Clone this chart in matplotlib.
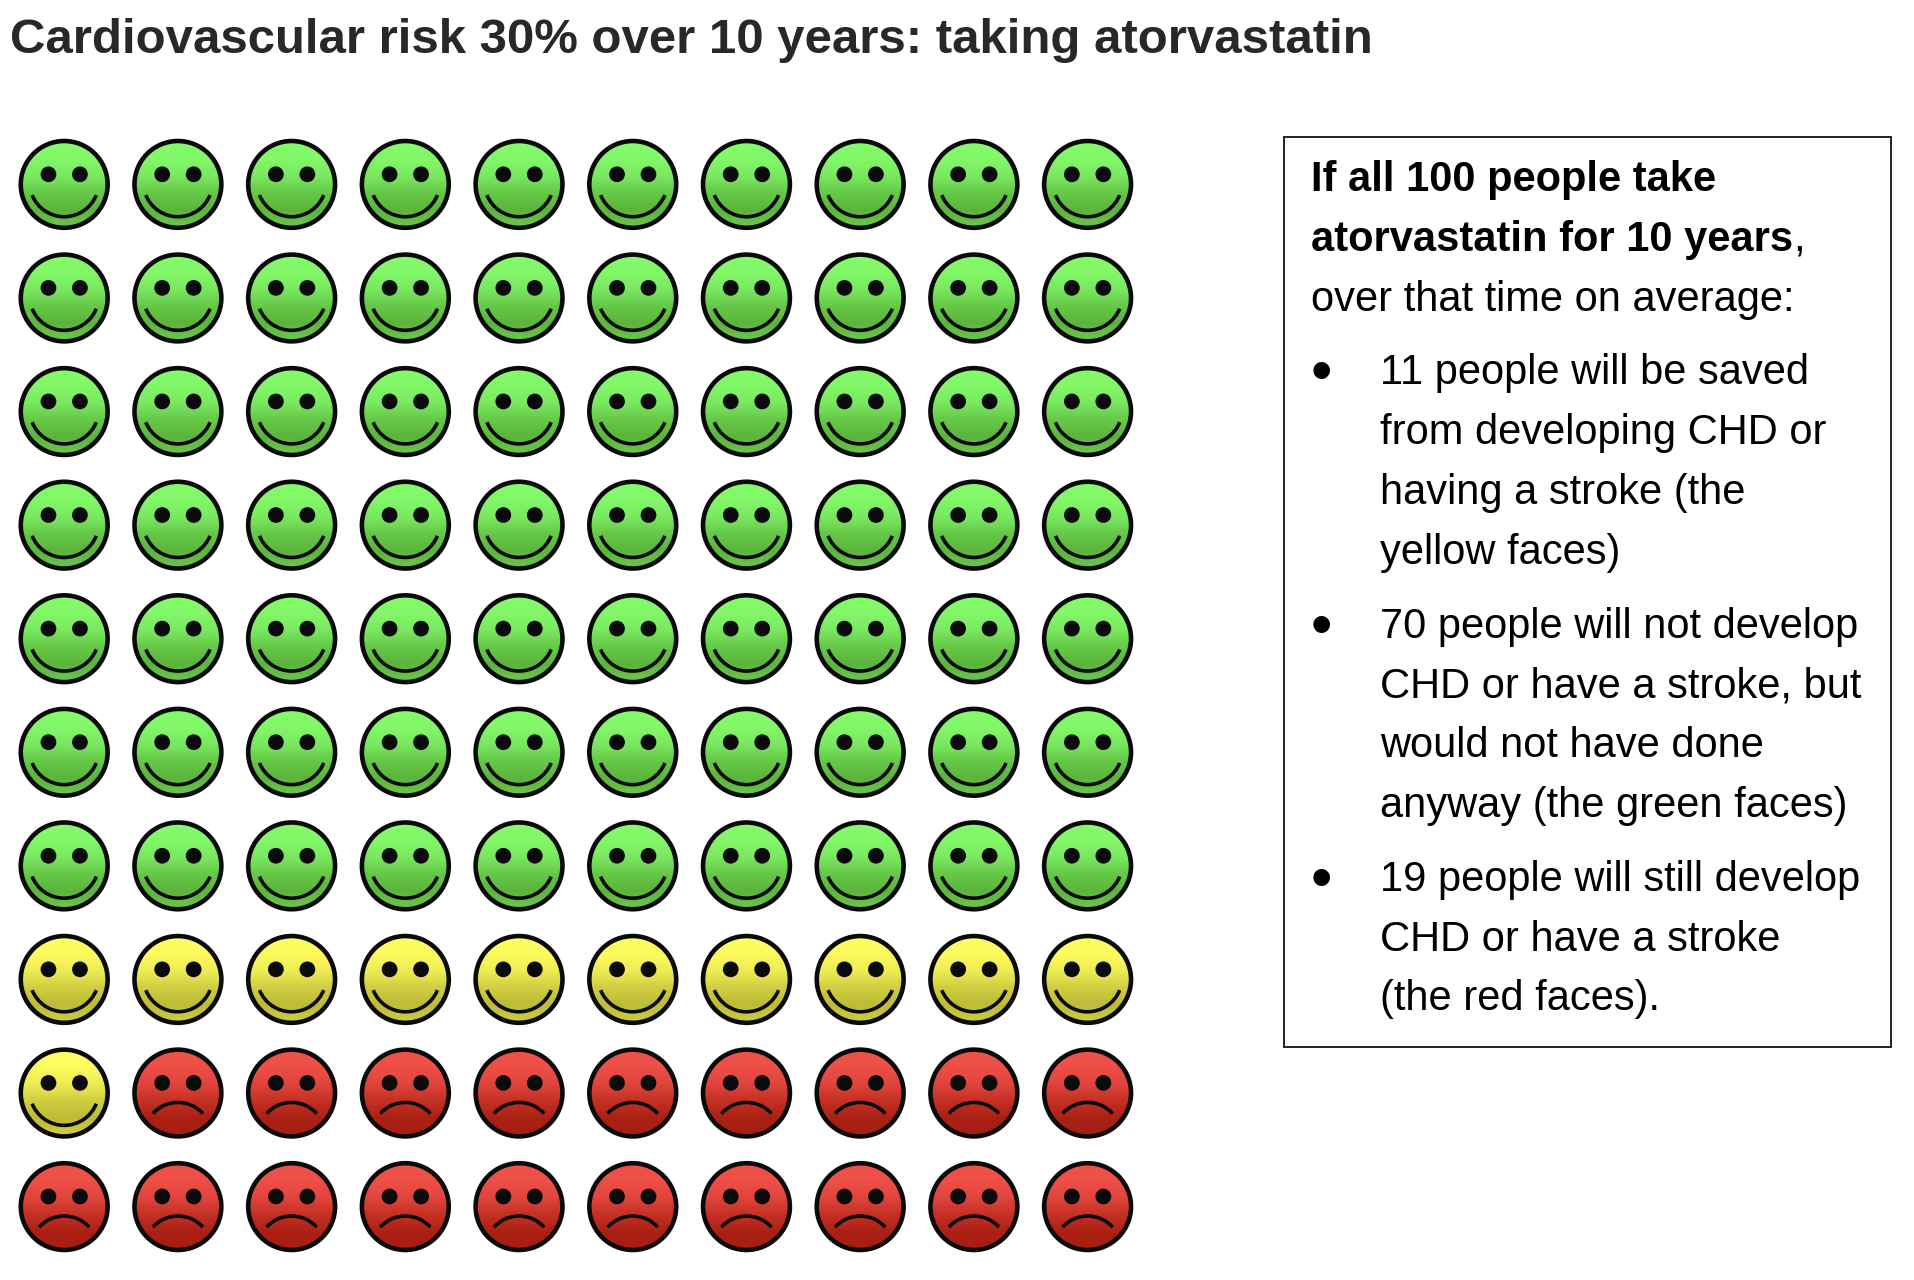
import numpy as np
import matplotlib
matplotlib.use("Agg")
import matplotlib.pyplot as plt
from matplotlib.colors import LinearSegmentedColormap
from matplotlib.patches import Circle, Arc, Rectangle

W, H = 1915, 1280
plt.rcParams['font.family'] = ['Liberation Sans', 'DejaVu Sans']

title = "Cardiovascular risk 30% over 10 years: taking atorvastatin"
n_rows, n_cols = 10, 10
counts = [("green", 70), ("yellow", 11), ("red", 19)]
stops = {
    "green": ["#84FB6A", "#82F868", "#7AE860", "#66C848", "#5CB43C", "#6CC84C"],
    "yellow": ["#FFFF62", "#FDFB5E", "#EEEC54", "#CFCD40", "#BDBB38", "#D0CE42"],
    "red": ["#F0524A", "#EE4F47", "#E0443C", "#C43024", "#AC2014", "#A81E12"],
}
box_head = ["If all 100 people take", "atorvastatin for 10 years"]
box_intro = "over that time on average:"
bullets = [
    ["11 people will be saved", "from developing CHD or", "having a stroke (the", "yellow faces)"],
    ["70 people will not develop", "CHD or have a stroke, but", "would not have done", "anyway (the green faces)"],
    ["19 people will still develop", "CHD or have a stroke", "(the red faces)."],
]

fig = plt.figure(figsize=(W / 100, H / 100), dpi=100, facecolor="white")
def fx(p): return p / W
def fy(p): return 1 - p / H

# grid axes: one data unit = one cell
cell_x = (1087.6 - 64.2) / 9
cell_y = (1206.6 - 184.4) / 9
x0, x1 = 64.2 - cell_x / 2, 1087.6 + cell_x / 2
y0, y1 = 184.4 - cell_y / 2, 1206.6 + cell_y / 2
ax = fig.add_axes([fx(x0), fy(y1), (x1 - x0) / W, (y1 - y0) / H])
ax.set_xlim(0, n_cols)
ax.set_ylim(n_rows, 0)
ax.axis("off")

kinds = [k for k, n in counts for _ in range(n)]
R = 0.382
U = 1.035
EDGE = "#0a0a0a"
for i, kind in enumerate(kinds):
    r, c = divmod(i, n_cols)
    cx, cy = c + 0.5, r + 0.5
    cmap = LinearSegmentedColormap.from_list(kind, stops[kind])
    im = ax.imshow(np.linspace(0, 1, 64)[:, None], cmap=cmap, aspect="auto",
                   extent=(cx - R, cx + R, cy + R, cy - R), origin="upper", zorder=1)
    clip = Circle((cx, cy), R, transform=ax.transData)
    im.set_clip_path(clip)
    ax.add_patch(Circle((cx, cy), R, fc="none", ec=EDGE, lw=3.3, zorder=3))
    for sx in (-1, 1):
        ax.add_patch(Circle((cx + sx * 0.35 * U * R, cy - 0.225 * U * R), 0.175 * U * R,
                            fc=EDGE, ec="none", zorder=3))
    if kind == "red":
        ax.add_patch(Arc((cx, cy + 0.96 * U * R), 1.5 * U * R, 1.5 * U * R, theta1=222, theta2=318,
                         ec=EDGE, lw=2.6, zorder=3))
    else:
        ax.add_patch(Arc((cx, cy - 0.05 * U * R), 1.54 * U * R, 1.54 * U * R, theta1=22, theta2=158,
                         ec=EDGE, lw=2.6, zorder=3))
ax.set_xlim(0, n_cols)
ax.set_ylim(n_rows, 0)

# title
fig.text(fx(10), fy(53), title, fontsize=35.4, fontweight="bold", color="#282828",
         va="baseline", ha="left")

# box
fig.add_artist(Rectangle((fx(1284.5), fy(1046.5)), (1891 - 1284.5) / W, (1046.5 - 137) / H,
                         transform=fig.transFigure, fc="white", ec="#222222", lw=1.4))

FS = 30
LEFT, IND, BUL = 1311.5, 1380.5, 1321.5
pitch = 59.8
gap = 14
y = 191
fig.text(fx(LEFT), fy(y), box_head[0], fontsize=FS, fontweight="bold", color="black", va="baseline")
y += pitch
t = fig.text(fx(LEFT), fy(y), box_head[1], fontsize=FS, fontweight="bold", color="black", va="baseline")
fig.canvas.draw()
bb = t.get_window_extent()
fig.text(bb.x1 / W, fy(y), ",", fontsize=FS, color="black", va="baseline")
y += pitch
fig.text(fx(LEFT), fy(y), box_intro, fontsize=FS, color="black", va="baseline")
y += gap
for group in bullets:
    y += pitch
    fig.text(fx(BUL), fy(y + 7), "\u2022", fontsize=44, color="black", va="baseline", ha="center")
    for k, line in enumerate(group):
        if k:
            y += pitch
        fig.text(fx(IND), fy(y), line, fontsize=FS, color="black", va="baseline")
    y += gap

fig.savefig("out.png", dpi=100, facecolor="white")
